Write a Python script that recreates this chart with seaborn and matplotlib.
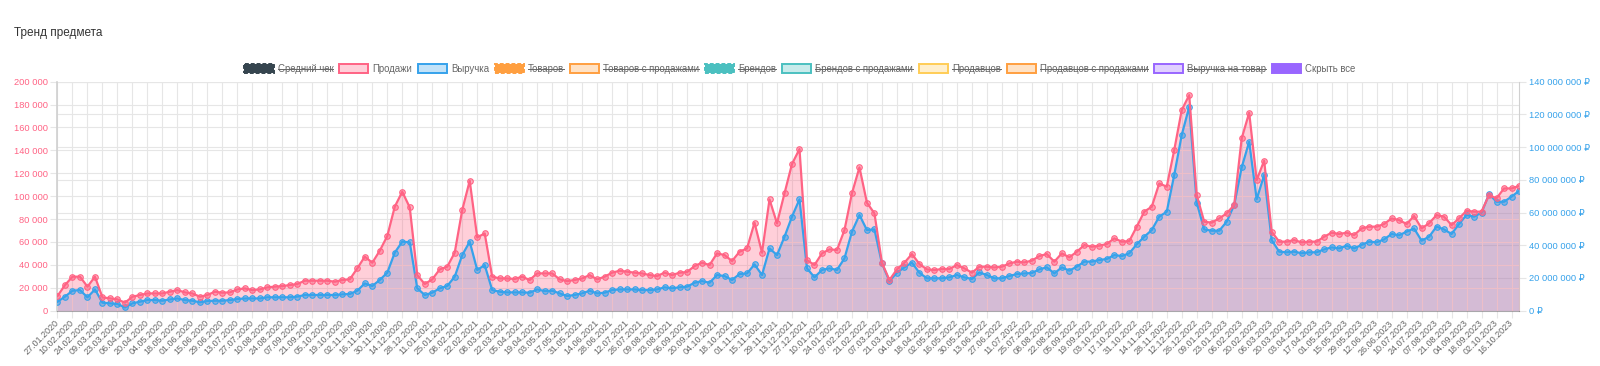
import numpy as np
import pandas as pd
import seaborn as sns
import matplotlib.pyplot as plt
from matplotlib.patches import Rectangle
from matplotlib.lines import Line2D
from matplotlib.colors import to_rgba
from matplotlib.ticker import FuncFormatter, MultipleLocator

plt.rcParams['font.family'] = ['Liberation Sans', 'DejaVu Sans']

# weekly points, first week starts 27.01.2020
start_date = '2020-01-27'

sales = [
    12800, 22400, 29700, 29700, 21000, 29700, 11600, 10800, 9900, 7000,
    12200, 13700, 15100, 15100, 15100, 16600, 18000, 16000, 15100, 12200,
    13700, 16600, 15700, 16000, 18600, 19500, 18000, 18600, 20400, 21000,
    21500, 22400, 23300, 26200, 26200, 26200, 26200, 25300, 26800, 27400,
    37000, 47200, 41900, 52400, 65200, 90800, 103900, 90200, 31100, 23300,
    27400, 36100, 38400, 50700, 87900, 113500, 64000, 67500, 29700, 28200,
    28200, 27700, 29700, 26800, 32600, 32600, 32600, 27400, 25900, 26800,
    28200, 31100, 27400, 29700, 33200, 34900, 34100, 33200, 32600, 31100,
    30300, 33200, 31100, 33200, 33800, 39000, 41900, 39900, 50100, 48600,
    43400, 51500, 54400, 76900, 50700, 97200, 76300, 102500, 128100, 141200,
    44200, 39900, 50100, 53600, 53000, 70400, 102500, 125200, 94300, 85000,
    41900, 26800, 36100, 41900, 49500, 40800, 36100, 35500, 36400, 36400,
    39900, 37000, 33200, 38400, 38400, 37800, 38400, 41300, 42800, 42200,
    43700, 47700, 49500, 42800, 50100, 46600, 51500, 57300, 55900, 56800,
    58200, 63200, 60300, 60800, 73400, 86500, 90800, 111200, 108300, 140300,
    175200, 188300, 101000, 77700, 76900, 80600, 85000, 92300, 150500, 172900,
    114100, 131000, 69000, 60300, 60300, 61700, 59700, 60300, 60300, 64600,
    68100, 67000, 68100, 66100, 71900, 73400, 73400, 75700, 80600, 79200,
    75700, 82700, 71900, 76300, 83500, 82100, 74800, 80600, 87300, 86500,
    86500, 101000, 98100, 106800, 106800, 108900,
]

# revenue, millions of roubles
revenue_mln = [
    5.5, 8.6, 12.2, 12.6, 8.2, 13.0, 4.9, 4.5, 4.1, 2.0,
    4.5, 5.5, 6.5, 6.5, 6.1, 6.9, 7.5, 6.5, 6.1, 5.1,
    5.9, 6.1, 6.1, 6.5, 7.1, 7.5, 7.5, 7.5, 8.2, 8.2,
    8.2, 8.2, 8.6, 9.6, 9.6, 9.6, 9.6, 9.6, 10.0, 10.2,
    12.2, 16.7, 15.1, 18.8, 23.2, 35.5, 42.2, 41.8, 13.7, 9.6,
    11.0, 13.7, 15.1, 20.8, 34.0, 42.2, 24.9, 27.9, 12.6, 11.6,
    11.2, 11.2, 11.2, 11.0, 13.0, 12.0, 12.2, 10.6, 9.0, 9.6,
    10.6, 12.2, 10.6, 11.0, 12.6, 13.0, 13.0, 13.0, 12.6, 12.6,
    13.0, 14.3, 13.7, 14.3, 14.7, 17.1, 18.1, 17.1, 21.8, 21.2,
    18.8, 22.4, 22.8, 28.3, 21.8, 38.1, 34.0, 45.2, 57.5, 68.1,
    25.9, 20.4, 24.9, 25.9, 24.9, 32.0, 48.3, 58.5, 49.3, 49.7,
    28.9, 18.1, 23.2, 26.5, 29.4, 23.2, 19.8, 19.8, 19.8, 20.4,
    21.8, 20.4, 19.4, 23.4, 21.8, 19.8, 19.8, 21.2, 22.4, 22.8,
    23.0, 25.3, 26.5, 22.8, 26.5, 24.5, 26.9, 30.0, 30.0, 31.0,
    31.6, 34.0, 33.4, 35.1, 40.6, 45.2, 49.3, 57.5, 60.5, 83.0,
    107.4, 124.7, 66.0, 49.7, 48.9, 48.9, 54.4, 64.6, 87.6, 103.3,
    68.1, 83.0, 43.2, 36.1, 35.7, 36.1, 35.1, 35.7, 35.7, 37.5,
    38.7, 38.1, 39.7, 38.1, 40.2, 42.2, 41.8, 43.6, 46.9, 46.1,
    48.3, 50.3, 42.8, 45.2, 51.4, 49.7, 46.9, 53.0, 58.5, 57.5,
    59.9, 71.3, 66.6, 66.6, 69.7, 73.2,
]

legend_labels = ['Средний чек', 'Продажи', 'Выручка', 'Товаров', 'Товаров с продажами',
                 'Брендов', 'Брендов с продажами', 'Продавцов', 'Продавцов с продажами',
                 'Выручка на товар', 'Скрыть все']
legend_colors = ['#36454f', '#ff6384', '#36a2eb', '#ff9f40', '#ff9f40',
                 '#4bc0c0', '#4bc0c0', '#ffcd56', '#ff9f40', '#9966ff', '#9966ff']
legend_hidden = [True, False, False, True, True, True, True, True, True, True, False]
legend_solid = [True, False, False, True, False, True, False, False, False, False, True]

PINK = '#ff6384'
BLUE = '#36a2eb'
W, H = 1600, 366

dates = pd.date_range(start_date, periods=len(sales), freq='7D')
revenue = np.array(revenue_mln) * 1e6

fig = plt.figure(figsize=(W / 100, H / 100), dpi=100)
ax = fig.add_axes([57.5 / W, 1 - 310.7 / H, (1519 - 57.5) / W, (310.7 - 81.7) / H])
ax2 = ax.twinx()
ax.set_zorder(ax2.get_zorder() + 1)
ax.patch.set_visible(False)

# fills: blue under pink
ax2.fill_between(dates, revenue, color=BLUE, alpha=0.3, lw=0)
ax.fill_between(dates, sales, color=PINK, alpha=0.3, lw=0, zorder=1)

sns.lineplot(x=dates, y=revenue, ax=ax, transform=ax2.transData, color=BLUE, lw=1.6,
             marker='o', ms=4, mfc=to_rgba(BLUE, 0.5), mec=BLUE, mew=0.8, zorder=3)
sns.lineplot(x=dates, y=sales, ax=ax, color=PINK, lw=1.6,
             marker='o', ms=4, mfc=to_rgba(PINK, 0.5), mec=PINK, mew=0.8, zorder=4)

ax.set_xlim(dates[0], dates[-1])
ax.set_ylim(0, 200000)
ax2.set_ylim(0, 140e6)
ax.set_xlabel('')
ax.set_ylabel('')
ax2.set_ylabel('')

ax.yaxis.set_major_locator(MultipleLocator(20000))
ax2.yaxis.set_major_locator(MultipleLocator(20e6))
ax.yaxis.set_major_formatter(FuncFormatter(lambda v, p: f'{int(v):,}'.replace(',', ' ')))
ax2.yaxis.set_major_formatter(FuncFormatter(lambda v, p: f'{int(v):,}'.replace(',', ' ') + ' ₽'))

ticks = dates[::2]
ax.set_xticks(ticks)
ax.set_xticklabels([d.strftime('%d.%m.%Y') for d in ticks], rotation=45, ha='right',
                   va='center', rotation_mode='anchor', fontsize=6.5, color='#666666')

grid_c = '#e6e6e6'
ax.grid(True, color=grid_c, lw=0.8)
ax.set_axisbelow(True)
ax2.grid(axis='y', color=grid_c, lw=0.8)
ax2.set_axisbelow(True)

ax.tick_params(axis='y', labelcolor=PINK, color=grid_c, length=5, width=0.8, pad=2, labelsize=6.7)
ax.tick_params(axis='x', color=grid_c, length=5, width=0.8, pad=3)
ax2.tick_params(axis='y', labelcolor=BLUE, color=grid_c, length=5, width=0.8, pad=2, labelsize=6.7)

for s in ['top', 'right']:
    ax.spines[s].set_visible(False)
ax.spines['left'].set_color('#d0d0d0')
ax.spines['left'].set_linewidth(1.2)
ax.spines['bottom'].set_color((0, 0, 0, 0.3))
for s in ['top', 'left', 'bottom']:
    ax2.spines[s].set_visible(False)
ax2.spines['right'].set_color('#d0d0d0')

fig.text(14 / W, 1 - 33 / H, 'Тренд предмета', fontsize=8.5, color='#333333', va='center')

# legend row, laid out like the chart.js legend
fig.canvas.draw()
rend = fig.canvas.get_renderer()
box_w, box_h, gap_in, gap_out = 29, 9, 4, 6
leg_fs = 6.9
widths = []
for lab in legend_labels:
    t = fig.text(0, 0, lab, fontsize=leg_fs)
    widths.append(t.get_window_extent(rend).width)
    t.remove()
total = sum(box_w + gap_in + w for w in widths) + gap_out * (len(widths) - 1)
x = W / 2 - total / 2
yc = H - 68.5
for lab, c, hid, solid, w in zip(legend_labels, legend_colors, legend_hidden, legend_solid, widths):
    face = to_rgba(c, 1.0) if solid else to_rgba(c, 0.3)
    fig.add_artist(Rectangle((x / W, (yc - box_h / 2) / H), box_w / W, box_h / H,
                             transform=fig.transFigure, facecolor=face, edgecolor=c,
                             lw=1.4, ls=(0, (2, 1)) if (solid and hid) else '-'))
    tx = x + box_w + gap_in
    fig.text(tx / W, yc / H, lab, fontsize=leg_fs, color='#666666', va='center')
    if hid:
        fig.add_artist(Line2D([tx / W, (tx + w) / W], [yc / H, yc / H],
                              transform=fig.transFigure, color='#666666', lw=0.7))
    x = tx + w + gap_out

fig.savefig('out.png', dpi=100)
